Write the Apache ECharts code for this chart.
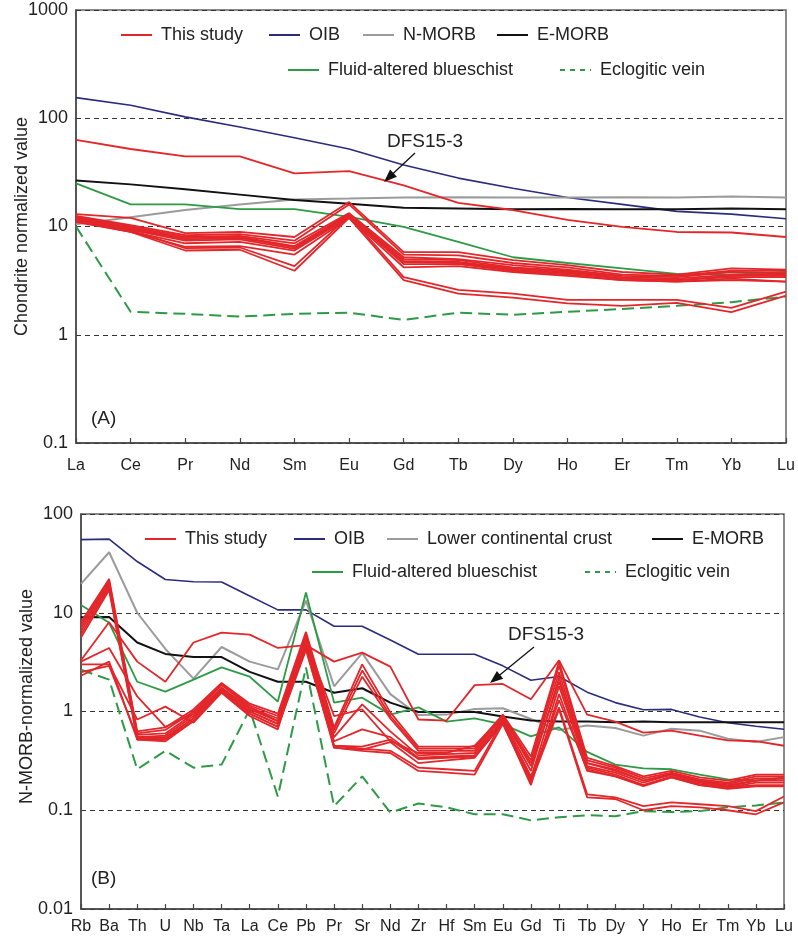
<!DOCTYPE html>
<html>
<head>
<meta charset="utf-8">
<script src="https://cdn.jsdelivr.net/npm/echarts@6/dist/echarts.min.js"></script>
<style>
html,body{margin:0;padding:0;background:#fff;}
#main{width:798px;height:936px;}
</style>
</head>
<body>
<div id="main"></div>
<script>
// ---------- Categories ----------
const reeCats = ['La','Ce','Pr','Nd','Sm','Eu','Gd','Tb','Dy','Ho','Er','Tm','Yb','Lu'];
const spiderCats = ['Rb','Ba','Th','U','Nb','Ta','La','Ce','Pb','Pr','Sr','Nd','Zr','Hf','Sm','Eu','Gd','Ti','Tb','Dy','Y','Ho','Er','Tm','Yb','Lu'];
const reeTicks = [0.1, 1, 10, 100, 1000];
const spiderTicks = [0.01, 0.1, 1, 10, 100];

// ---------- (A) Chondrite-normalized REE ----------
const reeOIB   = [155,132,103,83,66,52,37,28,22.6,18.5,16,13.8,13,11.8];
const reeNMORB = [10.5,12.2,14.2,16,17.8,18.1,18.5,18.6,18.5,18.5,18.6,18.5,18.9,18.5];
const reeEMORB = [26.6,24.5,22.1,19.7,17.6,16.2,14.9,14.7,14.4,14.5,14.4,14.4,14.7,14.4];
const reeBlueschist = [25,16,16,14.5,14.5,12.3,9.9,7.2,5.2,4.6,4.1,3.65,3.6,3.8];
const reeVein = [10,1.63,1.56,1.47,1.56,1.6,1.37,1.6,1.53,1.63,1.73,1.85,2.0,2.25];
const reeDFS15_3 = [63,52,44.5,44.5,31,32.5,24,16.5,14.2,11.5,9.9,8.9,8.8,8.0];
const reeS1  = [13.0,12.0,8.7,8.9,8.0,16.8,5.8,5.8,4.9,4.4,3.8,3.6,4.1,4.0];
const reeS2  = [12.5,10.3,8.3,8.5,7.4,16.0,5.5,5.4,4.6,4.2,3.6,3.5,3.9,3.9];
const reeS3  = [12.2,10.0,8.0,8.2,7.0,13.3,5.2,5.0,4.4,4.0,3.5,3.4,3.8,3.7];
const reeS4  = [12.0,9.7,7.8,8.0,6.6,13.0,5.0,4.9,4.2,3.9,3.4,3.3,3.6,3.6];
const reeS5  = [11.8,9.5,7.6,7.8,6.4,12.8,4.8,4.7,4.1,3.8,3.3,3.2,3.5,3.5];
const reeS6  = [11.5,9.3,7.4,7.6,6.2,12.5,4.7,4.6,4.0,3.7,3.3,3.2,3.4,3.4];
const reeS7  = [11.2,9.0,7.0,7.2,6.0,12.2,4.5,4.5,3.9,3.6,3.2,3.1,3.3,3.1];
const reeS8  = [11.0,8.9,6.5,6.6,5.5,12.0,4.2,4.3,3.8,3.5,3.2,3.1,3.2,3.1];
const reeS9  = [11.5,9.2,6.3,6.4,4.3,12.5,3.4,2.6,2.4,2.1,2.1,2.1,1.77,2.5];
const reeS10 = [11.2,8.9,6.0,6.1,3.9,12.0,3.2,2.4,2.2,1.95,1.85,1.97,1.62,2.3];

// ---------- (B) N-MORB-normalized trace elements ----------
const spOIB  = [55,55.6,33,21.7,20.6,20.5,14.8,10.7,10.7,7.3,7.3,5.3,3.8,3.8,3.8,2.9,2.07,2.26,1.57,1.23,1.04,1.05,0.88,0.77,0.71,0.66];
const spLCC  = [19.6,41,10,4.3,2.15,4.5,3.2,2.67,13.3,1.8,3.9,1.5,0.92,0.93,1.06,1.08,0.84,0.65,0.72,0.68,0.57,0.67,0.64,0.53,0.49,0.55];
const spEMORB= [9.0,9.05,5.0,3.83,3.56,3.56,2.52,2.0,2.0,1.55,1.72,1.23,0.99,0.99,0.99,0.89,0.81,0.79,0.79,0.78,0.79,0.78,0.78,0.78,0.78,0.78];
const spBlueschist = [12,7.9,2.0,1.59,2.1,2.8,2.25,1.26,16,1.23,1.38,0.93,1.1,0.79,0.85,0.74,0.56,0.69,0.39,0.29,0.265,0.26,0.23,0.205,0.2,0.215];
const spVein = [2.65,2.1,0.26,0.40,0.27,0.29,1.05,0.138,2.8,0.11,0.22,0.095,0.117,0.107,0.091,0.091,0.079,0.085,0.089,0.087,0.098,0.096,0.098,0.107,0.112,0.12];
const spDFS15_3 = [3.3,8.0,3.2,2.0,5.0,6.3,6.0,4.4,4.7,3.2,3.95,2.85,0.83,0.81,1.85,1.9,1.33,3.3,0.93,0.79,0.61,0.64,0.57,0.51,0.5,0.45];
const spS1  = [8.0,22,0.63,0.69,1.05,1.95,1.2,0.95,6.4,0.69,3.0,0.98,0.44,0.44,0.44,0.93,0.35,3.2,0.34,0.28,0.22,0.25,0.215,0.2,0.23,0.23];
const spS2  = [7.5,21,0.6,0.65,1.0,1.9,1.15,0.9,6.0,0.65,2.6,0.9,0.42,0.42,0.42,0.9,0.32,2.9,0.32,0.27,0.21,0.24,0.205,0.19,0.22,0.22];
const spS3  = [7.0,20,0.58,0.6,0.95,1.85,1.1,0.85,5.5,0.6,2.25,0.85,0.4,0.4,0.4,0.87,0.3,2.5,0.3,0.26,0.2,0.235,0.2,0.185,0.21,0.21];
const spS4  = [6.5,19,0.55,0.57,0.9,1.75,1.05,0.8,5.0,0.55,1.18,0.63,0.36,0.37,0.38,0.83,0.25,2.2,0.28,0.24,0.19,0.23,0.19,0.175,0.2,0.2];
const spS5  = [6.0,18,0.53,0.53,0.85,1.65,1.0,0.75,4.5,0.5,0.66,0.55,0.34,0.35,0.36,0.8,0.21,1.8,0.27,0.23,0.18,0.22,0.185,0.17,0.19,0.19];
const spS6  = [5.6,17,0.52,0.5,0.8,1.6,0.95,0.7,4.2,0.45,0.44,0.52,0.33,0.34,0.35,0.78,0.18,1.5,0.25,0.22,0.175,0.215,0.18,0.165,0.175,0.175];
const spS7  = [3.2,4.4,1.42,0.7,0.95,1.7,1.1,0.8,5.2,0.9,1.05,0.5,0.38,0.38,0.45,0.88,0.28,2.0,0.3,0.25,0.2,0.23,0.195,0.18,0.2,0.21];
const spS8  = [3.0,3.0,0.83,1.12,0.77,1.55,0.9,0.66,5.8,0.43,0.41,0.49,0.3,0.32,0.34,0.76,0.2,1.3,0.26,0.22,0.18,0.215,0.18,0.17,0.18,0.18];
const spS9  = [2.5,2.9,0.55,0.55,0.85,1.7,1.0,0.75,4.8,0.45,0.42,0.4,0.27,0.26,0.25,0.8,0.22,1.1,0.145,0.135,0.11,0.12,0.115,0.11,0.098,0.138];
const spS10 = [2.3,3.2,0.52,0.52,0.8,1.6,0.95,0.7,4.4,0.43,0.4,0.38,0.25,0.24,0.23,0.75,0.19,1.05,0.135,0.13,0.1,0.11,0.107,0.1,0.091,0.12];

// ---------- styling ----------
const RED = '#E3262A', BLUE = '#2B2C7E', GRAY = '#9B9B9B', BLACK = '#111111', GREEN = '#2E9A45';
const FONT = 'Liberation Sans, Arial, sans-serif';

function ln(name, data, g, color, width, type, z) {
  return {
    name: name, type: 'line', xAxisIndex: g, yAxisIndex: g, data: data,
    symbol: 'none', silent: true, animation: false, z: z || 2,
    lineStyle: { color: color, width: width, type: type || 'solid' },
    itemStyle: { color: color }
  };
}

const series = [];
// panel A
series.push(ln('OIB', reeOIB, 0, BLUE, 1.6));
series.push(ln('N-MORB', reeNMORB, 0, GRAY, 2));
series.push(ln('E-MORB', reeEMORB, 0, BLACK, 2));
series.push(ln('Fluid-altered blueschist', reeBlueschist, 0, GREEN, 1.8));
series.push(ln('Eclogitic vein', reeVein, 0, GREEN, 2, [12, 6]));
[reeDFS15_3, reeS1, reeS2, reeS3, reeS4, reeS5, reeS6, reeS7, reeS8, reeS9, reeS10]
  .forEach(d => series.push(ln('This study', d, 0, RED, 1.8, 'solid', 3)));
// panel B
series.push(ln('OIB ', spOIB, 1, BLUE, 1.6));
series.push(ln('Lower continental crust', spLCC, 1, GRAY, 2));
series.push(ln('E-MORB ', spEMORB, 1, BLACK, 2));
series.push(ln('Fluid-altered blueschist ', spBlueschist, 1, GREEN, 1.8));
series.push(ln('Eclogitic vein ', spVein, 1, GREEN, 2, [12, 6]));
[spDFS15_3, spS1, spS2, spS3, spS4, spS5, spS6, spS7, spS8, spS9, spS10]
  .forEach(d => series.push(ln('This study ', d, 1, RED, 1.8, 'solid', 3)));

function lg(name, left, top, dash) {
  const o = {
    data: [name], left: left, top: top, orient: 'horizontal',
    itemWidth: 31, itemHeight: 14, itemGap: 0, padding: 0,
    selectedMode: false,
    itemStyle: { opacity: 0 },
    lineStyle: { width: 2 },
    textStyle: { fontSize: 18, color: '#222', fontFamily: FONT, padding: [0, 0, 0, 4] }
  };
  if (dash) o.lineStyle = { width: 2, type: [5, 5] };
  return o;
}

function fmt(v) { return String(Number(Number(v).toPrecision(2))); }

function xAx(g, cats, fontSize, margin) {
  return {
    type: 'category', gridIndex: g, data: cats, boundaryGap: false,
    axisLine: { lineStyle: { color: '#444', width: 1.5 } },
    axisTick: { show: true, inside: true, length: 5, alignWithLabel: true, lineStyle: { color: '#444', width: 1.2 } },
    axisLabel: { color: '#222', fontSize: fontSize, fontFamily: FONT, margin: margin, interval: 0 },
    splitLine: { show: false }
  };
}
function yAx(g, min, max, name, gap, namePad) {
  return {
    type: 'log', logBase: 10, gridIndex: g, min: min, max: max,
    name: name, nameLocation: 'middle', nameGap: gap, nameRotate: 90, nameMoveOverlap: false,
    nameTextStyle: { color: '#222', fontSize: 18, fontFamily: FONT, padding: namePad },
    axisLine: { show: true, lineStyle: { color: '#444', width: 1.5 } },
    axisTick: { show: false },
    axisLabel: { color: '#222', fontSize: 18, fontFamily: FONT, margin: 8, formatter: fmt, showMinLabel: true, showMaxLabel: true },
    splitLine: { show: true, lineStyle: { color: '#333', width: 1.2, type: [5, 4] } }
  };
}

function arrow(x1, y1, x2, y2) {
  const dx = x2 - x1, dy = y2 - y1, L = Math.hypot(dx, dy), ux = dx / L, uy = dy / L;
  const hl = 13, hw = 5;
  const bx = x2 - ux * hl, by = y2 - uy * hl;
  return [
    { type: 'line', silent: true, z: 50, shape: { x1: x1, y1: y1, x2: bx + ux * 2, y2: by + uy * 2 }, style: { stroke: '#111', lineWidth: 1.3 } },
    { type: 'polygon', silent: true, z: 50, shape: { points: [[x2, y2], [bx - uy * hw, by + ux * hw], [bx + uy * hw, by - ux * hw]] }, style: { fill: '#111' } }
  ];
}

const option = {
  backgroundColor: '#fff',
  animation: false,
  grid: [
    { left: 76, right: 12, top: 10, bottom: 493, containLabel: false, outerBoundsMode: 'none', show: true, borderColor: '#666', borderWidth: 1.5, backgroundColor: 'transparent' },
    { left: 81, right: 14, top: 514, bottom: 27, containLabel: false, outerBoundsMode: 'none', show: true, borderColor: '#666', borderWidth: 1.5, backgroundColor: 'transparent' }
  ],
  xAxis: [xAx(0, reeCats, 16, 15), xAx(1, spiderCats, 16, 10)],
  yAxis: [yAx(0, 0.1, 1000, 'Chondrite normalized value', 45, [0, 0, 0, 0]), yAx(1, 0.01, 100, 'N-MORB-normalized value', 45, [0, 0, 0, 30])],
  legend: [
    lg('This study', 120, 26), lg('OIB', 268, 26), lg('N-MORB', 362, 26), lg('E-MORB', 496, 26),
    lg('Fluid-altered blueschist', 287, 61), lg('Eclogitic vein', 559, 61, true),
    lg('This study ', 144, 530), lg('OIB ', 293, 530), lg('Lower continental crust', 386, 530), lg('E-MORB ', 651, 530),
    lg('Fluid-altered blueschist ', 311, 563), lg('Eclogitic vein ', 584, 563, true)
  ],
  graphic: [
    { type: 'text', left: 387, top: 132, silent: true, style: { text: 'DFS15-3', font: '19px ' + FONT, fill: '#222' } },
    ...arrow(415, 153, 384, 182),
    { type: 'text', left: 508, top: 625, silent: true, style: { text: 'DFS15-3', font: '19px ' + FONT, fill: '#222' } },
    ...arrow(534, 647, 490, 683),
    { type: 'text', left: 91, top: 409, silent: true, style: { text: '(A)', font: '19px ' + FONT, fill: '#222' } },
    { type: 'text', left: 91, top: 869, silent: true, style: { text: '(B)', font: '19px ' + FONT, fill: '#222' } }
  ],
  series: series
};

const chart = echarts.init(document.getElementById('main'), null, { renderer: 'canvas' });
chart.setOption(option);
</script>
</body>
</html>
